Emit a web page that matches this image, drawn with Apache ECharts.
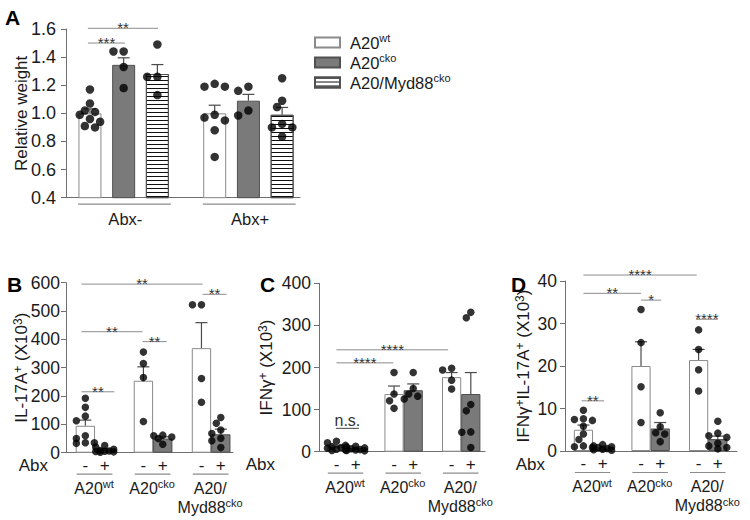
<!DOCTYPE html>
<html><head><meta charset="utf-8">
<script src="https://cdn.jsdelivr.net/npm/echarts@6/dist/echarts.min.js"></script>
<style>html,body{margin:0;padding:0;background:#fff}#c{width:750px;height:520px}</style>
</head><body><div id="c"></div>
<script>
// ================= DATA =================
// Panel A: relative weight, each array ordered [Abx-, Abx+]
const A_GROUPS   = ['Abx-', 'Abx+'];
const A_GENOTYPES = ['A20wt', 'A20cko', 'A20/Myd88cko'];
const A_LEGEND   = [['A20', 'wt'], ['A20', 'cko'], ['A20/Myd88', 'cko']];
const A_MEAN_WT  = [1.00, 1.00];
const A_MEAN_CKO = [1.345, 1.09];
const A_MEAN_MYD = [1.28, 0.99];
const A_SEM_WT   = [0.032, 0.058];
const A_SEM_CKO  = [0.05, 0.045];
const A_SEM_MYD  = [0.067, 0.052];
const A_PTS_WT   = [[1.17, 1.07, 1.02, 1.01, 0.99, 0.96, 0.94, 0.91, 0.90], [1.21, 1.19, 1.19, 0.99, 0.97, 0.95, 0.88, 0.69]];
const A_PTS_CKO  = [[1.44, 1.44, 1.33, 1.18], [1.19, 1.16, 1.02, 0.985]];
const A_PTS_MYD  = [[1.49, 1.26, 1.26, 1.13], [1.25, 1.09, 1.045, 0.925, 0.90, 0.90, 0.835]];
const A_TICKS    = [0.4, 0.6, 0.8, 1.0, 1.2, 1.4, 1.6];
const A_SIG      = [[-0.06, 1.04, 1.50], [-0.06, 2.02, 1.605]];   // [x from, x to, y]
const A_SIG_TXT  = ['***', '**'];

// Panels B–D, each array ordered:
// [A20wt -, A20wt +, A20cko -, A20cko +, A20/Myd88cko -, A20/Myd88cko +]
const GROUP_NAMES = [['A20', 'wt'], ['A20', 'cko'], ['A20/\nMyd88', 'cko']];
const ABX_SIGNS   = ['-', '+'];

const B_MEAN = [95, 10, 254, 50, 369, 65];
const B_SEM  = [20, 3, 49, 6, 90, 18];
const B_PTS  = [[192, 160, 129, 113, 60, 50, 35, 35, 33], [25, 20, 12, 8, 6, 5, 4, 3, 2],
                [355, 315, 265, 110], [62, 60, 55, 50, 30],
                [522, 522, 262, 178], [124, 104, 80, 68, 51, 42, 18]];
const B_TICKS = [0, 100, 200, 300, 400, 500, 600];
const B_SIG   = [[-0.2, 6.06, 595], [6.06, 7.3, 559], [-0.2, 2.95, 427], [2.95, 4.2, 392], [-0.2, 1.5, 215]];
const B_SIG_TXT = ['**', '**', '**', '**', '**'];

const C_MEAN = [11, 6, 137, 146, 177, 137];
const C_SEM  = [3, 1.5, 19, 15, 11, 51];
const C_PTS  = [[25, 21, 15, 12, 10, 8, 6, 4, 3], [13, 11, 9, 7, 5, 4, 3, 2],
                [188, 137, 121, 103], [188, 150, 137, 132, 125],
                [198, 194, 170, 149], [331, 318, 112, 97, 47, 46, 10]];
const C_TICKS = [0, 100, 200, 300, 400];
const C_SIG   = [[0, 5.82, 242], [0, 2.96, 211], [-0.03, 1.17, 55.5]];
const C_SIG_TXT = ['****', '****', 'n.s.'];

const D_MEAN = [5.0, 0.5, 20.0, 5.3, 21.4, 2.8];
const D_SEM  = [1.1, 0.2, 5.7, 1.4, 2.5, 0.7];
const D_PTS  = [[9.6, 7.6, 7.4, 7.2, 5.8, 4.0, 2.7, 1.2, 1.0, 0.8], [1.5, 1.2, 1.0, 0.8, 0.6, 0.4, 0.3, 0.2],
                [33.3, 25.5, 15.1, 6.7], [9.0, 5.7, 4.3, 4.0, 2.2],
                [28.5, 23.9, 19.1, 14.1], [7.0, 4.2, 3.6, 3.2, 1.8, 1.2, 0.8, 0.5]];
const D_TICKS = [0, 10, 20, 30, 40];
const D_SIG   = [[0, 5.9, 41.4], [0, 3.0, 37.1], [3.0, 4.05, 35.5], [5.86, 7.0, 31], [-0.1, 1.08, 11.8]];
const D_SIG_TXT = ['****', '**', '*', '****', '**'];

// ================= LAYOUT / STYLE =================
const FONT = "'Liberation Sans', Arial, Helvetica, sans-serif";
const TXT = '#1a1a1a';
const AXIS = '#707070';
const A_X = [[0, 3.7], [1, 4.7], [2, 5.7]];   // slot of each genotype bar [Abx-, Abx+]
const PAIR_X = [0, 1, 3, 4, 6, 7];            // slots of the six bars in B–D
const L = {
  A: {left: 66, top: 29, width: 234, height: 168.7, xMin: -0.71, xMax: 6.23},
  B: {left: 66, top: 282.7, width: 167, height: 170, xMin: -1.0, xMax: 7.63},
  C: {left: 319, top: 283.3, width: 166, height: 168.4, xMin: -0.91, xMax: 7.74},
  D: {left: 565, top: 281, width: 172, height: 170, xMin: -0.96, xMax: 8.0}
};
const WHITE = {color: '#ffffff', borderColor: '#8a8a8a', borderWidth: 1};
const GRAY = {color: '#7a7a7a', borderColor: '#505050', borderWidth: 1};
const STRIPE = {color: '#ffffff', borderColor: '#505050', borderWidth: 1,
  decal: {symbol: 'rect', symbolSize: 1, dashArrayX: [1, 0], dashArrayY: [1, 2.3], rotation: 0, color: '#111'}};

function rich(size, supSize, fillKey, lh) {
  const k = fillKey || 'color';
  const b = {fontSize: size, fontFamily: FONT, lineHeight: lh || Math.round(size * 1.3)}; b[k] = TXT;
  const s = {fontSize: supSize, fontFamily: FONT, lineHeight: supSize, verticalAlign: 'top'}; s[k] = TXT;
  return {b, s};
}

// simple deterministic beeswarm for dot positions
function swarm(cx, vals, pxSlot, pxUnit, diam) {
  const placed = [], out = [];
  const step = diam * 0.6, minD = diam * 0.9;
  const cands = [0, -step, step, -2 * step, 2 * step];
  vals.forEach(v => {
    const py = v * pxUnit;
    let best = 0, bestD = -1;
    for (const c of cands) {
      let md = Infinity;
      for (const p of placed) md = Math.min(md, Math.hypot(p[0] - c, p[1] - py));
      if (md >= minD) { best = c; break; }
      if (md > bestD) { bestD = md; best = c; }
    }
    placed.push([best, py]);
    out.push([cx + best / pxSlot, v]);
  });
  return out;
}

const option = {
  animation: false,
  backgroundColor: '#ffffff',
  textStyle: {fontFamily: FONT},
  grid: [], xAxis: [], yAxis: [], series: [],
  legend: {
    orient: 'vertical', left: 309, top: 27, itemWidth: 25, itemHeight: 10, itemGap: 1,
    icon: 'rect', selectedMode: false, data: A_GENOTYPES,
    formatter: n => { const t = A_LEGEND[A_GENOTYPES.indexOf(n)]; return '{b|' + t[0] + '}{s|' + t[1] + '}'; },
    textStyle: {fontSize: 16, color: TXT, fontFamily: FONT, padding: [0, 0, 0, 5], rich: rich(16.5, 11)}
  },
  graphic: [
    {type: 'text', left: 5, top: 7, style: {text: 'A', font: 'bold 21px ' + FONT, fill: '#000'}},
    {type: 'text', left: 7, top: 274, style: {text: 'B', font: 'bold 21px ' + FONT, fill: '#000'}},
    {type: 'text', left: 260, top: 274, style: {text: 'C', font: 'bold 21px ' + FONT, fill: '#000'}},
    {type: 'text', left: 511, top: 274, style: {text: 'D', font: 'bold 21px ' + FONT, fill: '#000'}}
  ]
};

function addGrid(P, ticks, fmt, name, nameGap, margin, labelSize) {
  const gi = option.grid.length;
  option.grid.push({left: P.left, top: P.top, width: P.width, height: P.height, containLabel: false, outerBoundsMode: 'none'});
  option.xAxis.push({gridIndex: gi, type: 'value', min: P.xMin, max: P.xMax,
    axisLine: {show: true, onZero: false, lineStyle: {color: AXIS, width: 1}},
    axisTick: {show: false}, axisLabel: {show: false}, splitLine: {show: false}});
  option.yAxis.push({gridIndex: gi, type: 'value', min: ticks[0], max: ticks[ticks.length - 1],
    interval: +(ticks[1] - ticks[0]).toFixed(6),
    axisLine: {show: true, onZero: false, lineStyle: {color: AXIS, width: 1}},
    axisTick: {show: true, length: 5, lineStyle: {color: AXIS}},
    axisLabel: {fontSize: labelSize, color: TXT, fontFamily: FONT, margin: margin, formatter: fmt},
    splitLine: {show: false},
    name: name, nameLocation: 'middle', nameRotate: 90, nameGap: nameGap, nameMoveOverlap: false,
    nameTextStyle: {fontSize: 17, color: TXT, fontFamily: FONT, rich: rich(17, 12, 'color', 19)}});
  return gi;
}

function errSeries(gi, data, cap) {
  return {type: 'custom', xAxisIndex: gi, yAxisIndex: gi, z: 3, silent: true, data: data,
    renderItem: (p, api) => {
      const x = api.value(0);
      const pm = api.coord([x, api.value(1)]), pt = api.coord([x, api.value(2)]);
      const st = {stroke: '#4a4a4a', lineWidth: 1.2};
      return {type: 'group', children: [
        {type: 'line', shape: {x1: pm[0], y1: pm[1], x2: pt[0], y2: pt[1]}, style: st},
        {type: 'line', shape: {x1: pt[0] - cap, y1: pt[1], x2: pt[0] + cap, y2: pt[1]}, style: st}]};
    }};
}

function sigSeries(gi, lines, texts) {
  return {type: 'custom', xAxisIndex: gi, yAxisIndex: gi, z: 4, silent: true, data: lines,
    renderItem: (p, api) => {
      const p1 = api.coord([api.value(0), api.value(2)]), p2 = api.coord([api.value(1), api.value(2)]);
      const t = texts[p.dataIndex], ns = t === 'n.s.';
      return {type: 'group', children: [
        {type: 'line', shape: {x1: p1[0], y1: p1[1], x2: p2[0], y2: p2[1]}, style: {stroke: ns ? '#444' : '#8c8c8c', lineWidth: 1}},
        {type: 'text', x: (p1[0] + p2[0]) / 2, y: p1[1] + (ns ? 0 : 7),
          style: {text: t, fill: '#333', fontSize: ns ? 16 : 15, fontFamily: FONT, align: 'center', verticalAlign: 'bottom'}}]};
    }};
}

function scatterSeries(gi, pts, diam) {
  return {type: 'scatter', xAxisIndex: gi, yAxisIndex: gi, z: 5, silent: true, data: pts,
    symbol: 'circle', symbolSize: diam, itemStyle: {color: '#000'}};
}

// ---------- Panel A ----------
(function () {
  const P = L.A;
  const gi = addGrid(P, A_TICKS, v => v.toFixed(1), '{b|Relative weight}', 35.5, 10, 18);
  const means = [A_MEAN_WT, A_MEAN_CKO, A_MEAN_MYD];
  const sems = [A_SEM_WT, A_SEM_CKO, A_SEM_MYD];
  const pts = [A_PTS_WT, A_PTS_CKO, A_PTS_MYD];
  const styles = [WHITE, GRAY, STRIPE];
  const pxSlot = P.width / (P.xMax - P.xMin);
  const pxUnit = P.height / (A_TICKS[A_TICKS.length - 1] - A_TICKS[0]);
  const err = [], dots = [];
  A_GENOTYPES.forEach((g, k) => {
    option.series.push({type: 'bar', name: g, xAxisIndex: gi, yAxisIndex: gi, z: 2, silent: true,
      barWidth: 23, barGap: '-100%', itemStyle: styles[k],
      data: A_X[k].map((x, j) => [x, means[k][j]])});
    A_X[k].forEach((x, j) => {
      err.push([x, means[k][j], means[k][j] + sems[k][j]]);
      swarm(x, pts[k][j].slice().sort((a, b) => b - a), pxSlot, pxUnit, 8.5).forEach(d => dots.push(d));
    });
  });
  option.series.push(errSeries(gi, err, 6));
  option.series.push(scatterSeries(gi, dots, 8.5));
  option.series.push(sigSeries(gi, A_SIG, A_SIG_TXT));
  // group brackets + Abx labels under the axis
  const groupSpan = A_GROUPS.map((_, j) => [A_X[0][j], A_X[2][j]]);
  option.series.push({type: 'custom', xAxisIndex: gi, yAxisIndex: gi, silent: true, data: groupSpan,
    renderItem: (p, api) => {
      const a = api.value(0), b = api.value(1), y0 = api.coord([a, A_TICKS[0]])[1];
      const xa = api.coord([a - 0.35, A_TICKS[0]])[0], xb = api.coord([b + 0.4, A_TICKS[0]])[0];
      const xc = api.coord([(a + b) / 2 + 0.05, A_TICKS[0]])[0];
      return {type: 'group', children: [
        {type: 'line', shape: {x1: xa, y1: y0 + 6.5, x2: xb, y2: y0 + 6.5}, style: {stroke: '#8c8c8c', lineWidth: 1.2}},
        {type: 'text', x: xc, y: y0 + 21, style: {text: A_GROUPS[p.dataIndex], fill: TXT, fontSize: 16.5, fontFamily: FONT, align: 'center', verticalAlign: 'middle'}}]};
    }});
})();

// ---------- Panels B–D ----------
function panel(P, ticks, mean, sem, pts, sig, sigTxt, name, nameGap, margin, abxOffset) {
  const gi = addGrid(P, ticks, v => String(v), name, nameGap, margin, 17.5);
  const pxSlot = P.width / (P.xMax - P.xMin);
  const pxUnit = P.height / (ticks[ticks.length - 1] - ticks[0]);
  const minus = [], plus = [], err = [], dots = [];
  PAIR_X.forEach((x, i) => {
    (i % 2 === 0 ? minus : plus).push([x, mean[i]]);
    err.push([x, mean[i], mean[i] + sem[i]]);
    swarm(x, pts[i].slice().sort((a, b) => b - a), pxSlot, pxUnit, 7.5).forEach(d => dots.push(d));
  });
  option.series.push({type: 'bar', name: 'Abx- ' + gi, xAxisIndex: gi, yAxisIndex: gi, z: 2, silent: true,
    barWidth: pxSlot, barGap: '-100%', itemStyle: WHITE, data: minus});
  option.series.push({type: 'bar', name: 'Abx+ ' + gi, xAxisIndex: gi, yAxisIndex: gi, z: 2, silent: true,
    barWidth: pxSlot, barGap: '-100%', itemStyle: GRAY, data: plus});
  option.series.push(errSeries(gi, err, 6));
  option.series.push(scatterSeries(gi, dots, 7.5));
  option.series.push(sigSeries(gi, sig, sigTxt));
  const pairs = GROUP_NAMES.map((_, g) => [PAIR_X[2 * g], PAIR_X[2 * g + 1]]);
  const rs = rich(16, 11, 'fill', 19);
  option.series.push({type: 'custom', xAxisIndex: gi, yAxisIndex: gi, silent: true, data: pairs,
    renderItem: (p, api) => {
      const xm = api.value(0), xp = api.value(1), y0v = ticks[0];
      const y0 = api.coord([xm, y0v])[1];
      const cx = v => api.coord([v, y0v])[0];
      const g = GROUP_NAMES[p.dataIndex];
      const lab = g[0].split('\n').map((s, i, arr) => '{b|' + s + '}' + (i === arr.length - 1 ? '{s|' + g[1] + '}' : '')).join('\n');
      const ch = [
        {type: 'text', x: cx(xm), y: y0 + 12.5, style: {text: ABX_SIGNS[0], fill: TXT, fontSize: 17, fontFamily: FONT, align: 'center', verticalAlign: 'middle'}},
        {type: 'text', x: cx(xp), y: y0 + 12.5, style: {text: ABX_SIGNS[1], fill: TXT, fontSize: 17, fontFamily: FONT, align: 'center', verticalAlign: 'middle'}},
        {type: 'line', shape: {x1: cx(xm - 0.45), y1: y0 + 21.5, x2: cx(xp + 0.4), y2: y0 + 21.5}, style: {stroke: '#8c8c8c', lineWidth: 1.2}},
        {type: 'text', x: cx((xm + xp) / 2 - 0.05), y: y0 + 26, style: {text: lab, rich: rs, fill: TXT, fontSize: 16, fontFamily: FONT, align: 'center', verticalAlign: 'top'}}
      ];
      if (p.dataIndex === 0) {
        ch.push({type: 'text', x: cx(P.xMin) - abxOffset, y: y0 + 13, style: {text: 'Abx', fill: TXT, fontSize: 17, fontFamily: FONT, align: 'right', verticalAlign: 'middle'}});
      }
      return {type: 'group', children: ch};
    }});
}

panel(L.B, B_TICKS, B_MEAN, B_SEM, B_PTS, B_SIG, B_SIG_TXT, '{b|IL-17A}{s|+}{b| (X10}{s|3}{b|)}', 35.5, 6, 18);
panel(L.C, C_TICKS, C_MEAN, C_SEM, C_PTS, C_SIG, C_SIG_TXT, '{b|IFNγ}{s|+}{b| (X10}{s|3}{b|)}', 43.5, 8, 44);
panel(L.D, D_TICKS, D_MEAN, D_SEM, D_PTS, D_SIG, D_SIG_TXT, '{b|IFNγ}{s|+}{b|IL-17A}{s|+}{b| (X10}{s|3}{b|)}', 32.5, 8, 20);

const chart = echarts.init(document.getElementById('c'), null, {renderer: 'svg', width: 750, height: 520});
chart.setOption(option);
</script>
</body></html>
